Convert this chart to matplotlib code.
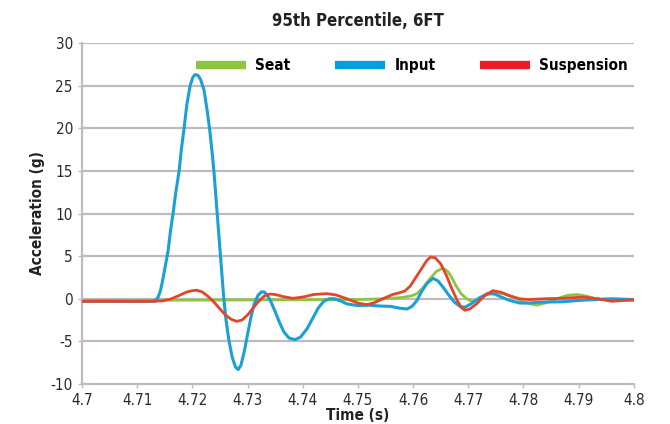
import matplotlib
matplotlib.use("Agg")
import matplotlib.pyplot as plt
from matplotlib.lines import Line2D

plt.rcParams['font.family'] = ['DejaVu Sans']
plt.rcParams['font.stretch'] = 'condensed'

# values
seat_t = [4.700, 4.750, 4.755, 4.758, 4.7597, 4.7607, 4.7618, 4.763, 4.7642, 4.7654,
          4.7663, 4.767, 4.7678, 4.7687, 4.7697, 4.7708, 4.772, 4.7733, 4.7748, 4.7763,
          4.7781, 4.780, 4.7824, 4.784, 4.786, 4.788, 4.7897, 4.7915, 4.793, 4.796, 4.800]
seat_g = [-0.2, -0.1, 0.0, 0.15, 0.35, 0.6, 1.3, 2.3, 3.2, 3.6,
          3.2, 2.5, 1.5, 0.6, 0.0, -0.35, -0.05, 0.45, 0.75, 0.6,
          0.2, -0.4, -0.75, -0.5, 0.0, 0.4, 0.5, 0.3, 0.0, -0.2, -0.2]

input_t = [4.700, 4.7132, 4.7138, 4.7142, 4.7145, 4.715, 4.7156, 4.716, 4.7165, 4.717,
           4.7176, 4.718, 4.7185, 4.719, 4.7196, 4.7201, 4.7205, 4.721, 4.7215, 4.7221,
           4.7227, 4.7232, 4.7236, 4.7239, 4.7242, 4.7245, 4.7248, 4.7251, 4.7254, 4.7257,
           4.7261, 4.7266, 4.7272, 4.7278, 4.7283, 4.7288, 4.7294, 4.730, 4.7306, 4.7312,
           4.7319, 4.7325, 4.733, 4.7336, 4.7342, 4.735, 4.7358, 4.7366, 4.7375, 4.7386,
           4.7396, 4.7408, 4.7418, 4.7428, 4.7438, 4.7448, 4.7458, 4.747, 4.748, 4.750,
           4.752, 4.754, 4.756, 4.7575, 4.7589, 4.7598, 4.7607, 4.7615, 4.7625, 4.7636,
           4.7645, 4.7655, 4.7665, 4.7675, 4.7685, 4.7694, 4.7705, 4.772, 4.7735, 4.7748,
           4.776, 4.7775, 4.7793, 4.781, 4.783, 4.7871, 4.790, 4.7926, 4.796, 4.800]
input_g = [-0.3, -0.3, 0.2, 0.9, 1.8, 3.5, 5.6, 7.8, 10, 12.5,
           15, 17.5, 20, 22.8, 25, 26.0, 26.3, 26.2, 25.7, 24.5,
           22, 19.5, 17, 15, 12.5, 10, 7.5, 5, 2.5, 0,
           -2.5, -4.8, -6.8, -8.0, -8.3, -7.8, -6.2, -4.2, -2.2, -0.6,
           0.4, 0.8, 0.8, 0.4, -0.3, -1.5, -2.8, -3.9, -4.6, -4.8,
           -4.5, -3.5, -2.3, -1.1, -0.3, 0.0, 0.0, -0.3, -0.6, -0.8,
           -0.75, -0.85, -0.9, -1.1, -1.2, -0.9, -0.2, 0.8, 1.8, 2.4,
           2.1, 1.3, 0.4, -0.4, -0.9, -1.0, -0.6, 0.1, 0.6, 0.55,
           0.2, -0.2, -0.5, -0.5, -0.4, -0.35, -0.2, -0.1, 0.0, -0.1]

susp_t = [4.700, 4.712, 4.7145, 4.716, 4.7175, 4.719, 4.720, 4.7208, 4.7218, 4.7228,
          4.7238, 4.725, 4.726, 4.727, 4.728, 4.729, 4.730, 4.731, 4.732, 4.733,
          4.734, 4.735, 4.7365, 4.7382, 4.740, 4.742, 4.7444, 4.746, 4.748, 4.750,
          4.7516, 4.753, 4.7545, 4.7563, 4.7575, 4.7585, 4.7595, 4.7605, 4.7615, 4.7625,
          4.7632, 4.764, 4.765, 4.766, 4.767, 4.768, 4.7687, 4.7694, 4.7703, 4.7715,
          4.773, 4.7745, 4.776, 4.7775, 4.7793, 4.781, 4.784, 4.787, 4.7908, 4.7935,
          4.796, 4.800]
susp_g = [-0.3, -0.3, -0.25, -0.05, 0.35, 0.8, 0.95, 1.0, 0.8, 0.3,
          -0.3, -1.2, -1.9, -2.4, -2.65, -2.5, -1.9, -1.1, -0.3, 0.3,
          0.55, 0.5, 0.25, 0.05, 0.2, 0.5, 0.6, 0.45, 0.0, -0.5,
          -0.7, -0.45, 0.0, 0.5, 0.7, 0.9, 1.5, 2.5, 3.5, 4.5,
          4.9, 4.8, 4.1, 2.8, 1.2, -0.2, -1.0, -1.35, -1.2, -0.6,
          0.4, 0.95, 0.75, 0.35, 0.0, -0.1, 0.0, 0.05, 0.2, 0.0,
          -0.3, -0.1]

x_ticks = [4.7, 4.71, 4.72, 4.73, 4.74, 4.75, 4.76, 4.77, 4.78, 4.79, 4.8]
x_labels = ['4.7', '4.71', '4.72', '4.73', '4.74', '4.75', '4.76', '4.77', '4.78', '4.79', '4.8']
y_ticks = [-10, -5, 0, 5, 10, 15, 20, 25, 30]

fig = plt.figure(figsize=(6.7, 4.24), dpi=100)
ax = fig.add_axes([0.1224, 0.0943, 0.8236, 0.8043])

grid_c = '#c2baba'
for y in y_ticks[1:]:
    ax.axhline(y, color=grid_c, lw=1.6, zorder=0)

ax.plot(seat_t, seat_g, color='#8cc63f', lw=2.0, zorder=2)
ax.plot(input_t, input_g, color='#1aa0d8', lw=2.2, zorder=3)
ax.plot(susp_t, susp_g, color='#e2452a', lw=2.0, zorder=4)

ax.set_xlim(4.7, 4.8)
ax.set_ylim(-10, 30)
ax.set_xticks(x_ticks)
ax.set_xticklabels(x_labels, fontsize=11)
ax.set_yticks(y_ticks)
ax.set_yticklabels([str(v) for v in y_ticks], fontsize=11)
ax.tick_params(colors=grid_c, labelcolor='#2a2a2a', length=3, width=1)

for s in ['top', 'right']:
    ax.spines[s].set_visible(False)
for s in ['left', 'bottom']:
    ax.spines[s].set_color(grid_c)
    ax.spines[s].set_linewidth(1.6)

ax.set_title('95th Percentile, 6FT', fontsize=12, fontweight='bold', color='#222222', pad=12)
ax.set_xlabel('Time (s)', fontsize=11, fontweight='bold', color='#222222', labelpad=0)
ax.set_ylabel('Acceleration (g)', fontsize=11, fontweight='bold', color='#222222', labelpad=4)

handles = [Line2D([], [], color='#8cc63f', lw=6, solid_capstyle='butt'),
           Line2D([], [], color='#00a0dc', lw=6, solid_capstyle='butt'),
           Line2D([], [], color='#ee1c25', lw=6, solid_capstyle='butt')]
ax.legend(handles, ['Seat', 'Input', 'Suspension'], ncol=3, frameon=False,
          loc='center', bbox_to_anchor=(0.598, 0.933),
          prop={'size': 11, 'weight': 'bold', 'stretch': 'condensed'}, handlelength=3.3,
          handletextpad=0.6, columnspacing=2.9)

fig.savefig('out.png', dpi=100)
